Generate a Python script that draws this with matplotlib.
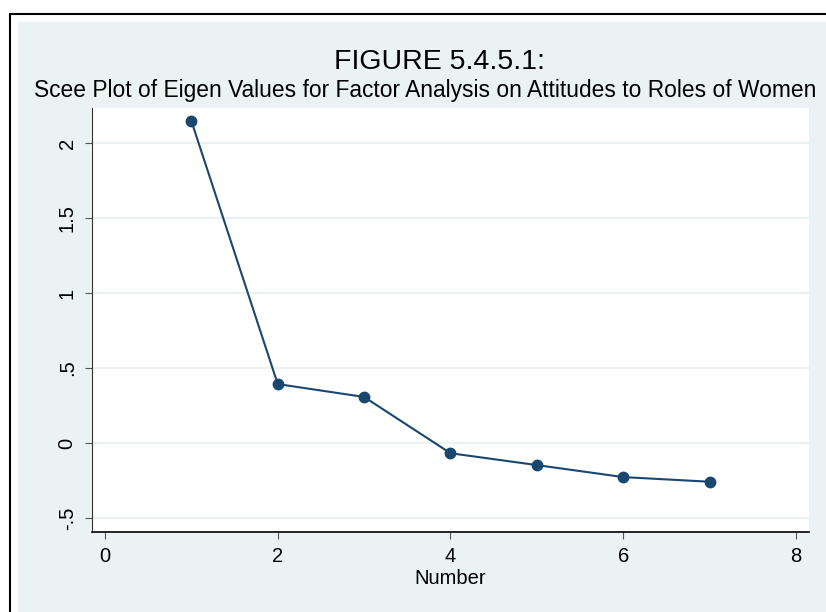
import matplotlib
matplotlib.use("Agg")
import matplotlib.pyplot as plt
from matplotlib.patches import Rectangle

plt.rcParams['font.family'] = ['Liberation Sans', 'DejaVu Sans']

# eigenvalues from the factor analysis
number = [1, 2, 3, 4, 5, 6, 7]
eigen = [2.147, 0.393, 0.307, -0.068, -0.147, -0.227, -0.258]

xticks = [0, 2, 4, 6, 8]
yticks = [-0.5, 0, 0.5, 1, 1.5, 2]
ytick_labels = ["-.5", "0", ".5", "1", "1.5", "2"]

W, H = 826, 612
fig = plt.figure(figsize=(W / 100, H / 100), dpi=100)
fig.patch.set_facecolor("white")

# outer frame and light background (graph region)
fig.patches.append(Rectangle((18 / W, -0.1), 1.2, (H - 22) / H + 0.1, transform=fig.transFigure,
                             facecolor="#eaf2f3", edgecolor="none", zorder=0))
fig.patches.append(Rectangle((10 / W, -0.1), 1.2, (H - 14) / H + 0.1, transform=fig.transFigure,
                             facecolor="none", edgecolor="black", linewidth=1.5, zorder=1))

ax = fig.add_axes([92 / W, (H - 532) / H, (809 - 92) / W, (532 - 108) / H])
ax.set_zorder(5)
ax.set_facecolor("white")
ax.plot(number, eigen, color="#1a476f", linewidth=1.5, marker="o", markersize=7.5, zorder=3)

ax.set_xlim(-0.15, 8.15)
ax.set_ylim(-0.593, 2.233)
ax.set_xticks(xticks)
ax.set_xticklabels([str(t) for t in xticks])
ax.set_yticks(yticks)
ax.set_yticklabels(ytick_labels, rotation=90, va="center")
ax.tick_params(axis="both", labelsize=14.5, length=5, width=0.8, color="#555555", pad=6)
ax.grid(axis="y", color="#eaf2f3", linewidth=1.5, zorder=1)
ax.set_axisbelow(True)
for s in ["top", "right"]:
    ax.spines[s].set_visible(False)
ax.spines["left"].set_color("#333333")
ax.spines["bottom"].set_color("black")
ax.spines["bottom"].set_linewidth(1.2)

ax.set_xlabel("Number", fontsize=14.5, labelpad=2)

fig.text(440 / W, 1 - 69 / H, "FIGURE 5.4.5.1:", fontsize=20.5, ha="center", va="baseline")
fig.text(425 / W, 1 - 97 / H, "Scee Plot of Eigen Values for Factor Analysis on Attitudes to Roles of Women",
         fontsize=16.4, ha="center", va="baseline")

fig.savefig("out.png", dpi=100)
